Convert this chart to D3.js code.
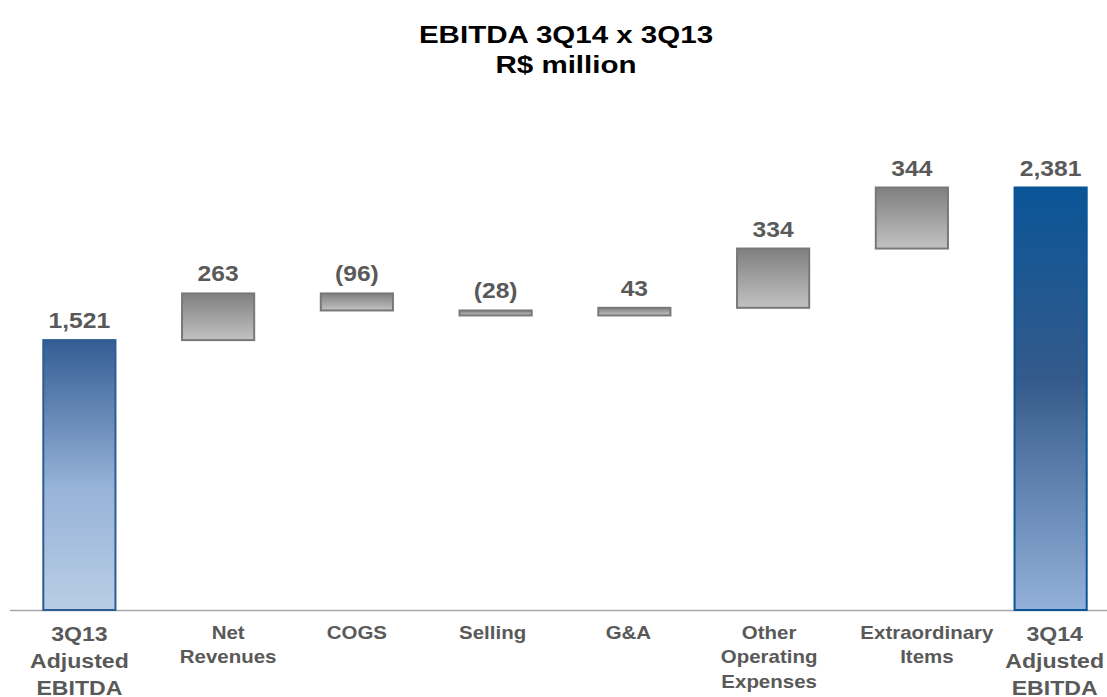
<!DOCTYPE html>
<html>
<head>
<meta charset="utf-8">
<script src="https://cdn.jsdelivr.net/npm/d3@7"></script>
<style>
  body { margin: 0; background: #fff; }
  text { font-family: "Liberation Sans", Arial, sans-serif; font-weight: bold; }
</style>
</head>
<body>
<div id="chart"></div>
<script>
const categories = [
    ["3Q13", "Adjusted", "EBITDA"],
    ["Net", "Revenues"],
    ["COGS"],
    ["Selling"],
    ["G&A"],
    ["Other", "Operating", "Expenses"],
    ["Extraordinary", "Items"],
    ["3Q14", "Adjusted", "EBITDA"]
];
const values = [1521, 263, -96, -28, 43, 334, 344, 2381];
const kinds = ["total", "delta", "delta", "delta", "delta", "delta", "delta", "total"];
const valueLabels = ["1,521", "263", "(96)", "(28)", "43", "334", "344", "2,381"];
const titleLines = ["EBITDA 3Q14 x 3Q13", "R$ million"];

const width = 1107, height = 697;
const baseY = 610;
// the category labels in the source are not all centred on their bars
const labelNudge = [0, 10, 0, -3, -6, -4, 15, 4];

// running totals for the waterfall
let run = 0;
const bars = values.map((v, i) => {
    let y0, y1;
    if (kinds[i] === "total") { y0 = 0; y1 = v; run = v; }
    else { y0 = run; y1 = run + v; run = y1; }
    return {i, v, kind: kinds[i], lo: Math.min(y0, y1), hi: Math.max(y0, y1), label: valueLabels[i], cat: categories[i]};
});

const x = d3.scaleBand(d3.range(values.length), [10, 1120]).paddingInner(0.48).paddingOuter(0.24);
const y = d3.scaleLinear([0, 2381], [baseY, 187.5]);
const cx = i => x(i) + x.bandwidth() / 2;

const svg = d3.select("#chart").append("svg")
    .attr("width", width)
    .attr("height", height)
    .attr("viewBox", [0, 0, width, height]);

const defs = svg.append("defs");
const grads = [
    {id: "gStart", stops: [[0, "#345d94"], [0.55, "#97b3d8"], [1, "#b9cde5"]]},
    {id: "gEnd", stops: [[0, "#0a5597"], [0.45, "#345a8b"], [1, "#93b1d9"]]},
    {id: "gGray", stops: [[0, "#7f7f7f"], [1, "#c2c2c2"]]}
];
grads.forEach(g => {
    defs.append("linearGradient")
        .attr("id", g.id)
        .attr("x1", 0).attr("y1", 0).attr("x2", 0).attr("y2", 1)
        .selectAll("stop")
        .data(g.stops)
        .join("stop")
            .attr("offset", d => d[0])
            .attr("stop-color", d => d[1]);
});

// title (the source text is a bit wider than Arial, so stretch it)
svg.append("g")
    .attr("text-anchor", "middle")
    .selectAll("text")
    .data(titleLines)
    .join("text")
        .attr("transform", (d, i) => `translate(566,${43 + i * 30}) scale(1.23,1)`)
        .attr("font-size", 24)
        .attr("fill", "#000")
        .text(d => d);

// baseline
svg.append("line")
    .attr("x1", 10).attr("x2", width)
    .attr("y1", baseY + 0.5).attr("y2", baseY + 0.5)
    .attr("stroke", "#a6a6a6")
    .attr("stroke-width", 1.5);

const fillFor = d => d.kind === "total" ? (d.i === 0 ? "url(#gStart)" : "url(#gEnd)") : "url(#gGray)";
const strokeFor = d => d.kind === "total" ? (d.i === 0 ? "#2f5b93" : "#0a5597") : "#787878";

svg.append("g")
    .selectAll("rect")
    .data(bars)
    .join("rect")
        .attr("x", d => x(d.i))
        .attr("width", x.bandwidth())
        .attr("y", d => y(d.hi))
        .attr("height", d => Math.max(y(d.lo) - y(d.hi), 4))
        .attr("fill", fillFor)
        .attr("stroke", strokeFor)
        .attr("stroke-width", 2);

// value labels
svg.append("g")
    .attr("text-anchor", "middle")
    .selectAll("text")
    .data(bars)
    .join("text")
        .attr("transform", d => `translate(${cx(d.i)},${y(d.hi) - 12}) scale(1.12,1)`)
        .attr("font-size", 22)
        .attr("fill", "#595959")
        .text(d => d.label);

// category labels
svg.append("g")
    .attr("text-anchor", "middle")
    .selectAll("g")
    .data(bars)
    .join("g")
        .attr("transform", d => `translate(${cx(d.i) + labelNudge[d.i]},0) scale(${d.kind === "total" ? 1.1 : 1.17},1)`)
    .append("text")
        .attr("font-size", d => d.kind === "total" ? 21 : 17.5)
        .attr("fill", "#595959")
        .each(function(d) {
            const lh = d.kind === "total" ? 27 : 24.5;
            const top = d.kind === "total" ? 641 : 639;
            d3.select(this).selectAll("tspan")
                .data(d.cat)
                .join("tspan")
                    .attr("x", 0)
                    .attr("y", (t, k) => top + k * lh)
                    .text(t => t);
        });
</script>
</body>
</html>
